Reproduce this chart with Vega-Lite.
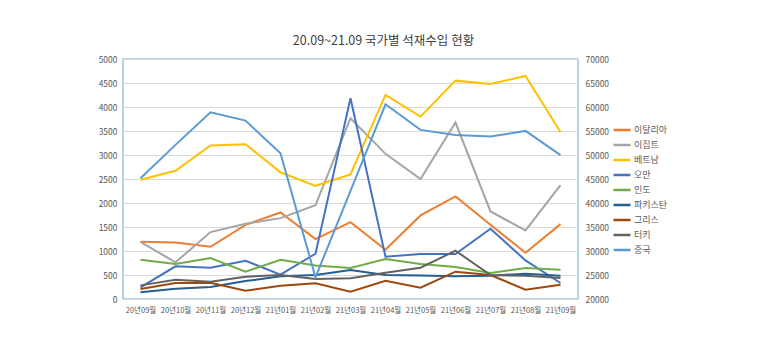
{
  "$schema": "https://vega.github.io/schema/vega-lite/v6.json",
  "width": 455,
  "height": 240,
  "autosize": {"type": "none"},
  "padding": {"left": 123, "top": 59, "right": 182, "bottom": 61},
  "background": "white",
  "config": {
    "font": "Noto Sans CJK KR",
    "view": {"stroke": "#9DC3E6", "strokeWidth": 1.5},
    "axis": {"labelFont": "Noto Sans CJK KR", "labelColor": "#595959", "labelFontSize": 8.5, "ticks": false, "domain": false, "title": null}
  },
  "title": {
    "text": "20.09~21.09 국가별 석재수입 현황",
    "anchor": "middle",
    "frame": "group",
    "dx": 33,
    "offset": 8,
    "fontSize": 12.5,
    "fontWeight": "normal",
    "color": "#404040",
    "font": "Noto Sans CJK KR"
  },
  "datasets": {
    "left": [
      {"month": "20년09월", "country": "이탈리아", "value": 1193},
      {"month": "20년10월", "country": "이탈리아", "value": 1179},
      {"month": "20년11월", "country": "이탈리아", "value": 1089},
      {"month": "20년12월", "country": "이탈리아", "value": 1546},
      {"month": "21년01월", "country": "이탈리아", "value": 1803},
      {"month": "21년02월", "country": "이탈리아", "value": 1248},
      {"month": "21년03월", "country": "이탈리아", "value": 1602},
      {"month": "21년04월", "country": "이탈리아", "value": 1026},
      {"month": "21년05월", "country": "이탈리아", "value": 1741},
      {"month": "21년06월", "country": "이탈리아", "value": 2136},
      {"month": "21년07월", "country": "이탈리아", "value": 1546},
      {"month": "21년08월", "country": "이탈리아", "value": 964},
      {"month": "21년09월", "country": "이탈리아", "value": 1560},

      {"month": "20년09월", "country": "이집트", "value": 1190},
      {"month": "20년10월", "country": "이집트", "value": 763},
      {"month": "20년11월", "country": "이집트", "value": 1394},
      {"month": "20년12월", "country": "이집트", "value": 1567},
      {"month": "21년01월", "country": "이집트", "value": 1685},
      {"month": "21년02월", "country": "이집트", "value": 1956},
      {"month": "21년03월", "country": "이집트", "value": 3766},
      {"month": "21년04월", "country": "이집트", "value": 3024},
      {"month": "21년05월", "country": "이집트", "value": 2497},
      {"month": "21년06월", "country": "이집트", "value": 3676},
      {"month": "21년07월", "country": "이집트", "value": 1824},
      {"month": "21년08월", "country": "이집트", "value": 1429},
      {"month": "21년09월", "country": "이집트", "value": 2372},

      {"month": "20년09월", "country": "베트남", "value": 2483},
      {"month": "20년10월", "country": "베트남", "value": 2670},
      {"month": "20년11월", "country": "베트남", "value": 3197},
      {"month": "20년12월", "country": "베트남", "value": 3225},
      {"month": "21년01월", "country": "베트남", "value": 2640},
      {"month": "21년02월", "country": "베트남", "value": 2358},
      {"month": "21년03월", "country": "베트남", "value": 2594},
      {"month": "21년04월", "country": "베트남", "value": 4251},
      {"month": "21년05월", "country": "베트남", "value": 3800},
      {"month": "21년06월", "country": "베트남", "value": 4549},
      {"month": "21년07월", "country": "베트남", "value": 4480},
      {"month": "21년08월", "country": "베트남", "value": 4646},
      {"month": "21년09월", "country": "베트남", "value": 3481},

      {"month": "20년09월", "country": "오만", "value": 240},
      {"month": "20년10월", "country": "오만", "value": 680},
      {"month": "20년11월", "country": "오만", "value": 652},
      {"month": "20년12월", "country": "오만", "value": 797},
      {"month": "21년01월", "country": "오만", "value": 506},
      {"month": "21년02월", "country": "오만", "value": 943},
      {"month": "21년03월", "country": "오만", "value": 4182},
      {"month": "21년04월", "country": "오만", "value": 881},
      {"month": "21년05월", "country": "오만", "value": 936},
      {"month": "21년06월", "country": "오만", "value": 936},
      {"month": "21년07월", "country": "오만", "value": 1463},
      {"month": "21년08월", "country": "오만", "value": 804},
      {"month": "21년09월", "country": "오만", "value": 333},

      {"month": "20년09월", "country": "인도", "value": 818},
      {"month": "20년10월", "country": "인도", "value": 728},
      {"month": "20년11월", "country": "인도", "value": 853},
      {"month": "20년12월", "country": "인도", "value": 569},
      {"month": "21년01월", "country": "인도", "value": 815},
      {"month": "21년02월", "country": "인도", "value": 700},
      {"month": "21년03월", "country": "인도", "value": 645},
      {"month": "21년04월", "country": "인도", "value": 832},
      {"month": "21년05월", "country": "인도", "value": 728},
      {"month": "21년06월", "country": "인도", "value": 666},
      {"month": "21년07월", "country": "인도", "value": 541},
      {"month": "21년08월", "country": "인도", "value": 645},
      {"month": "21년09월", "country": "인도", "value": 610},

      {"month": "20년09월", "country": "파키스탄", "value": 139},
      {"month": "20년10월", "country": "파키스탄", "value": 215},
      {"month": "20년11월", "country": "파키스탄", "value": 250},
      {"month": "20년12월", "country": "파키스탄", "value": 374},
      {"month": "21년01월", "country": "파키스탄", "value": 472},
      {"month": "21년02월", "country": "파키스탄", "value": 499},
      {"month": "21년03월", "country": "파키스탄", "value": 603},
      {"month": "21년04월", "country": "파키스탄", "value": 499},
      {"month": "21년05월", "country": "파키스탄", "value": 492},
      {"month": "21년06월", "country": "파키스탄", "value": 472},
      {"month": "21년07월", "country": "파키스탄", "value": 485},
      {"month": "21년08월", "country": "파키스탄", "value": 527},
      {"month": "21년09월", "country": "파키스탄", "value": 485},

      {"month": "20년09월", "country": "그리스", "value": 208},
      {"month": "20년10월", "country": "그리스", "value": 333},
      {"month": "20년11월", "country": "그리스", "value": 340},
      {"month": "20년12월", "country": "그리스", "value": 173},
      {"month": "21년01월", "country": "그리스", "value": 277},
      {"month": "21년02월", "country": "그리스", "value": 326},
      {"month": "21년03월", "country": "그리스", "value": 153},
      {"month": "21년04월", "country": "그리스", "value": 381},
      {"month": "21년05월", "country": "그리스", "value": 236},
      {"month": "21년06월", "country": "그리스", "value": 569},
      {"month": "21년07월", "country": "그리스", "value": 499},
      {"month": "21년08월", "country": "그리스", "value": 194},
      {"month": "21년09월", "country": "그리스", "value": 298},

      {"month": "20년09월", "country": "터키", "value": 284},
      {"month": "20년10월", "country": "터키", "value": 402},
      {"month": "20년11월", "country": "터키", "value": 360},
      {"month": "20년12월", "country": "터키", "value": 465},
      {"month": "21년01월", "country": "터키", "value": 499},
      {"month": "21년02월", "country": "터키", "value": 416},
      {"month": "21년03월", "country": "터키", "value": 430},
      {"month": "21년04월", "country": "터키", "value": 548},
      {"month": "21년05월", "country": "터키", "value": 652},
      {"month": "21년06월", "country": "터키", "value": 1006},
      {"month": "21년07월", "country": "터키", "value": 499},
      {"month": "21년08월", "country": "터키", "value": 485},
      {"month": "21년09월", "country": "터키", "value": 437}
    ],
    "right": [
      {"month": "20년09월", "country": "중국", "value": 45170},
      {"month": "20년10월", "country": "중국", "value": 52110},
      {"month": "20년11월", "country": "중국", "value": 58900},
      {"month": "20년12월", "country": "중국", "value": 57170},
      {"month": "21년01월", "country": "중국", "value": 50370},
      {"month": "21년02월", "country": "중국", "value": 24510},
      {"month": "21년03월", "country": "중국", "value": 42540},
      {"month": "21년04월", "country": "중국", "value": 60570},
      {"month": "21년05월", "country": "중국", "value": 55230},
      {"month": "21년06월", "country": "중국", "value": 54190},
      {"month": "21년07월", "country": "중국", "value": 53840},
      {"month": "21년08월", "country": "중국", "value": 55020},
      {"month": "21년09월", "country": "중국", "value": 49960}
    ]
  },
  "encoding": {
    "x": {
      "field": "month",
      "type": "ordinal",
      "sort": ["20년09월","20년10월","20년11월","20년12월","21년01월","21년02월","21년03월","21년04월","21년05월","21년06월","21년07월","21년08월","21년09월"],
      "scale": {"type": "point", "padding": 0.5},
      "axis": {"labelAngle": 0, "labelPadding": 7, "grid": false, "labelFontSize": 7.5}
    },
    "color": {
      "field": "country",
      "type": "nominal",
      "scale": {
        "domain": ["이탈리아","이집트","베트남","오만","인도","파키스탄","그리스","터키","중국"],
        "range": ["#ED7D31","#A5A5A5","#FFC000","#4472C4","#70AD47","#255E91","#9E480E","#636363","#5B9BD5"]
      },
      "legend": {
        "title": null,
        "orient": "none",
        "legendX": 489,
        "legendY": 61,
        "symbolType": "stroke",
        "symbolSize": 289,
        "symbolStrokeWidth": 2.5,
        "labelFontSize": 9,
        "labelColor": "#595959",
        "labelFont": "Noto Sans CJK KR",
        "labelOffset": 2,
        "rowPadding": -4
      }
    }
  },
  "layer": [
    {
      "data": {"name": "left"},
      "mark": {"type": "line", "strokeWidth": 2},
      "encoding": {
        "y": {
          "field": "value",
          "type": "quantitative",
          "scale": {"domain": [0, 5000], "nice": false},
          "axis": {"values": [0,500,1000,1500,2000,2500,3000,3500,4000,4500,5000], "format": "d", "grid": true, "gridColor": "#D9D9D9", "labelPadding": 6}
        }
      }
    },
    {
      "data": {"name": "right"},
      "mark": {"type": "line", "strokeWidth": 2},
      "encoding": {
        "y": {
          "field": "value",
          "type": "quantitative",
          "scale": {"domain": [20000, 70000], "nice": false, "zero": false},
          "axis": {"orient": "right", "values": [20000,25000,30000,35000,40000,45000,50000,55000,60000,65000,70000], "format": "d", "grid": false, "labelPadding": 7}
        }
      }
    }
  ],
  "resolve": {"scale": {"y": "independent"}}
}
